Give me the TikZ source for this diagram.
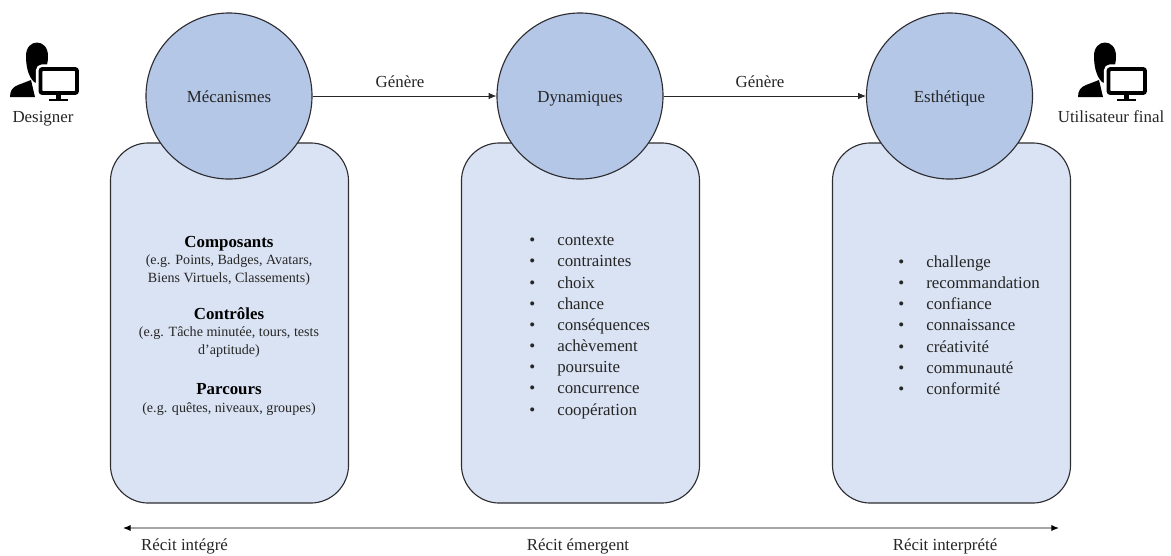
\documentclass[tikz,border=0pt]{standalone}
\usepackage{fontspec}
\setmainfont{Liberation Serif}
\definecolor{main}{RGB}{180,199,231}
\definecolor{second}{RGB}{218,227,243}
\definecolor{third}{RGB}{45,45,50}
\definecolor{fourth}{RGB}{38,38,38}
\usetikzlibrary{
	arrows.meta,
	positioning
}
\tikzset{
  % arrow
	cstra/.style      ={-{Latex[length=5.5pt,width=4.5pt]}, line width=.5pt, fourth},
	cstlra/.style     ={{Latex[length=5.5pt,width=4.5pt,black]}-{Latex[length=5.5pt,width=4.5pt,black]}, line width=.8pt, black!35},
  % node
	cstcircle/.style  ={circle,fill=main,draw=third,line width=.8pt,minimum size=4.15cm,text=fourth,text height=8.6pt,text depth=0pt,font=\fontsize{12}{15}\selectfont},
	cstbox/.style     ={rectangle,fill=second,draw=third,line width=.8pt,rounded corners=.95cm,minimum width=5.95cm,minimum height=9cm},
	csttext/.style    ={font=\fontsize{12}{15}\selectfont,inner sep=0pt,anchor=base,text=fourth},
	cstlist/.style    ={font=\fontsize{12}{15.05}\selectfont,align=left,inner sep=0pt,anchor=north west,text=fourth},
	cstsmall/.style   ={align=center,inner sep=0pt,text=fourth,font=\fontsize{10}{13.2}\selectfont},
	cstbold/.style    ={inner sep=0pt,font=\fontsize{12}{15}\selectfont\bfseries},
  % icon
	usericon/.pic={
		\fill (26,56) .. controls (26,38) and (48,38) .. (48,56)
			.. controls (48,64) and (46,70) .. (43,73) -- (39,84) -- (34,82)
			.. controls (28,76) and (26,66) .. (26,56) -- cycle;
		\fill (10,97) .. controls (10,90) and (13,87) .. (18,85) -- (31,80) -- (35,97) -- cycle;
		\draw[white,line width=6.5pt,rounded corners=1.5pt] (40.5,69) rectangle (77,93);
		\draw[line width=2.8pt,rounded corners=1.5pt] (40.5,69) rectangle (77,93);
		\fill (56,94) rectangle (61,99);
		\fill (49,98.5) rectangle (68,100.5);
	}
}
\newcommand{\cstbullet}{\makebox[.7cm][l]{\textbullet}}
\begin{document}
\begin{tikzpicture}[x=.025cm,y=-.025cm]
	\useasboundingbox (0,0) rectangle (1171,555);
	% boxes
	\node[cstbox] (boxm) at (229.5,323) {};
	\node[cstbox] (boxd) at (580.5,323) {};
	\node[cstbox] (boxe) at (951.5,323) {};
	% circles
	\node[cstcircle] (mecanismes) at (229,96) {Mécanismes};
	\node[cstcircle] (dynamiques) at (580,96) {Dynamiques};
	\node[cstcircle] (esthetique) at (949.5,96) {Esthétique};
	\draw[cstra] (mecanismes)--(dynamiques);
	\draw[cstra] (dynamiques)--(esthetique);
	\node[csttext] (genere1) at (400,87) {Génère};
	\node[csttext] (genere2) at (760,87) {Génère};
	% mecanismes
	\node[cstbold] (composants) at (229,243.5) {Composants};
	\node[cstsmall] (composantsex) at (229,270) {(e.g. Points, Badges, Avatars,\\Biens Virtuels, Classements)};
	\node[cstbold] (controles) at (229,313.5) {Contrôles};
	\node[cstsmall] (controlesex) at (229,342) {(e.g. Tâche minutée, tours, tests\\d’aptitude)};
	\node[cstbold] (parcours) at (229,389) {Parcours};
	\node[cstsmall] (parcoursex) at (229,409.5) {(e.g. quêtes, niveaux, groupes)};
	% lists
	\node[cstlist] (listd) at (529,236) {\cstbullet contexte\\\cstbullet contraintes\\\cstbullet choix\\\cstbullet chance\\\cstbullet conséquences\\\cstbullet achèvement\\\cstbullet poursuite\\\cstbullet concurrence\\\cstbullet coopération};
	\node[cstlist] (liste) at (898,255.5) {\cstbullet challenge\\\cstbullet recommandation\\\cstbullet confiance\\\cstbullet connaissance\\\cstbullet créativité\\\cstbullet communauté\\\cstbullet conformité};
	% icons
	\pic {usericon};
	\pic at (1068,0) {usericon};
	\node[csttext] (designer) at (43,122) {Designer};
	\node[csttext] (utilisateur) at (1111,122) {Utilisateur final};
	% bottom
	\coordinate (recitl) at (123,528);
	\coordinate (recitr) at (1059,528);
	\draw[cstlra] (recitl)--(recitr);
	\node[csttext] (integre) at (184.5,550) {Récit intégré};
	\node[csttext] (emergent) at (578,550) {Récit émergent};
	\node[csttext] (interprete) at (945,550) {Récit interprété};
\end{tikzpicture}
\end{document}
